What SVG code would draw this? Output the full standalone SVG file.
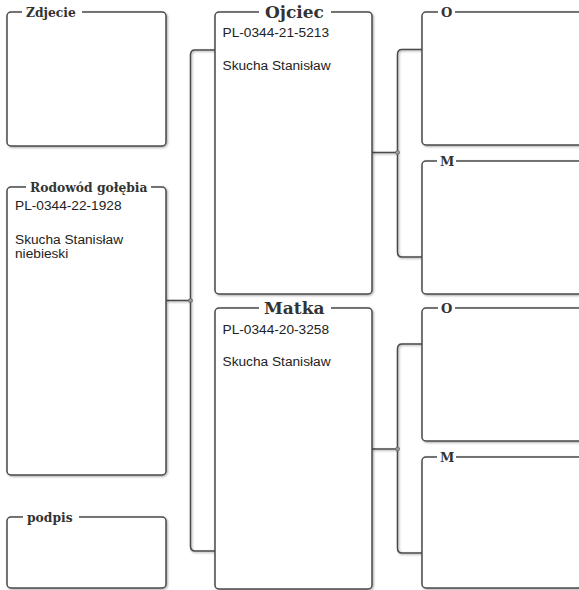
<svg xmlns="http://www.w3.org/2000/svg" width="579" height="590" viewBox="0 0 579 590">
<style>
  .box{fill:#fff;stroke:#4a4a4a;stroke-width:1.5;filter:url(#sh)}
  .gap{fill:#fff;stroke:none}
  .title{font-family:"DejaVu Serif",serif;font-weight:bold;fill:#333;font-size:12.3px}
  .big{font-size:17px}
  .om{font-size:13px}
  .txt{font-family:"Liberation Sans",Arial,sans-serif;font-size:13.7px;fill:#222}
  .con{fill:none;stroke:#4a4a4a;stroke-width:1.5;filter:url(#sh)}
  .dot{fill:#999;stroke:#666;stroke-width:0.8}
</style>
<defs>
  <filter id="sh" x="-5%" y="-5%" width="115%" height="115%">
    <feDropShadow dx="1" dy="1" stdDeviation="0.8" flood-color="#000" flood-opacity="0.35"/>
  </filter>
</defs>
<rect width="579" height="590" fill="#fff"/>
<g id="connectors">
  <path class="con" d="M166,300.5 H190 M215,50 H195 Q190.5,50 190.5,55 V546 Q190.5,551 195,551 H215"/>
  <path class="con" d="M372,152.5 H397 M422,49.5 H402 Q397.5,49.5 397.5,54.5 V252 Q397.5,257 402,257 H422"/>
  <path class="con" d="M372,449 H397 M422,344 H402 Q397.5,344 397.5,349 V548 Q397.5,553 402,553 H422"/>
  <circle class="dot" cx="190.5" cy="300.5" r="2"/>
  <circle class="dot" cx="397.5" cy="152.5" r="2"/>
  <circle class="dot" cx="397.5" cy="449" r="2"/>
</g>
<g id="zdjecie">
  <rect class="box" x="7" y="12" width="159" height="134" rx="4"/>
  <rect class="gap" x="22" y="7" width="60" height="10"/>
  <text class="title" x="26" y="16.5">Zdjecie</text>
</g>
<g id="rodowod">
  <rect class="box" x="7" y="187" width="159" height="288" rx="4"/>
  <rect class="gap" x="26" y="182" width="125" height="10"/>
  <text class="title" x="30" y="191.5">Rodowód gołębia</text>
  <text class="txt" x="15" y="210">PL-0344-22-1928</text>
  <text class="txt" x="15" y="244">Skucha Stanisław</text>
  <text class="txt" x="15" y="258">niebieski</text>
</g>
<g id="podpis">
  <rect class="box" x="7" y="517" width="159" height="71" rx="4"/>
  <rect class="gap" x="23" y="512" width="56" height="10"/>
  <text class="title" x="27" y="521.5">podpis</text>
</g>
<g id="ojciec">
  <rect class="box" x="215" y="12" width="157" height="282" rx="4"/>
  <rect class="gap" x="259" y="6" width="72" height="12"/>
  <text class="title big" x="265" y="18">Ojciec</text>
  <text class="txt" x="222.5" y="37">PL-0344-21-5213</text>
  <text class="txt" x="222.5" y="70">Skucha Stanisław</text>
</g>
<g id="matka">
  <rect class="box" x="215" y="308" width="157" height="281" rx="4"/>
  <rect class="gap" x="259" y="302" width="72" height="12"/>
  <text class="title big" x="264" y="314">Matka</text>
  <text class="txt" x="222.5" y="334">PL-0344-20-3258</text>
  <text class="txt" x="222.5" y="366">Skucha Stanisław</text>
</g>
<g id="o1">
  <rect class="box" x="422" y="12" width="165" height="133" rx="4"/>
  <rect class="gap" x="438" y="7" width="17" height="10"/>
  <text class="title om" x="441" y="16.5">O</text>
</g>
<g id="m1">
  <rect class="box" x="422" y="161" width="165" height="133" rx="4"/>
  <rect class="gap" x="437" y="156" width="19" height="10"/>
  <text class="title om" x="440" y="165.5">M</text>
</g>
<g id="o2">
  <rect class="box" x="422" y="308" width="165" height="133" rx="4"/>
  <rect class="gap" x="438" y="303" width="17" height="10"/>
  <text class="title om" x="441" y="312.5">O</text>
</g>
<g id="m2">
  <rect class="box" x="422" y="457" width="165" height="131" rx="4"/>
  <rect class="gap" x="437" y="452" width="19" height="10"/>
  <text class="title om" x="440" y="461.5">M</text>
</g>
</svg>
